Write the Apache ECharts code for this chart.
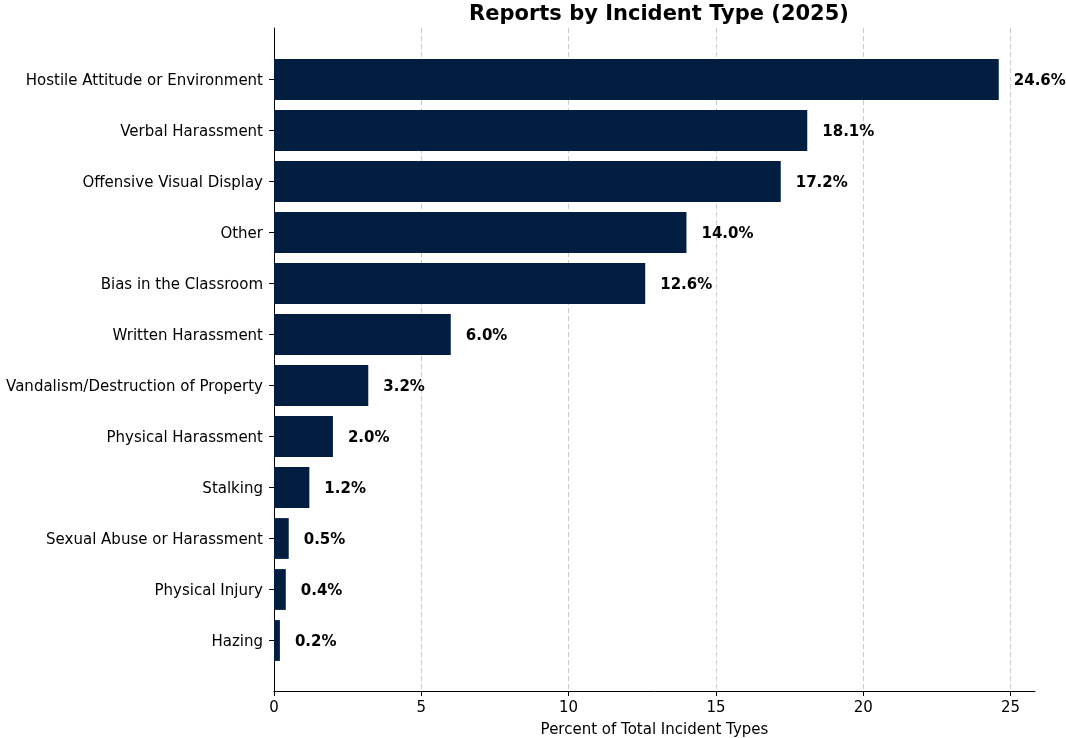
<!DOCTYPE html>
<html>
<head>
<meta charset="utf-8">
<script src="https://cdn.jsdelivr.net/npm/echarts@6/dist/echarts.min.js"></script>
<style>html,body{margin:0;padding:0;background:#fff}#c{width:1066px;height:738px}</style>
</head>
<body>
<div id="c"></div>
<script>
const categories = [
  'Hostile Attitude or Environment',
  'Verbal Harassment',
  'Offensive Visual Display',
  'Other',
  'Bias in the Classroom',
  'Written Harassment',
  'Vandalism/Destruction of Property',
  'Physical Harassment',
  'Stalking',
  'Sexual Abuse or Harassment',
  'Physical Injury',
  'Hazing'
];
const values = [24.6, 18.1, 17.2, 14.0, 12.6, 6.0, 3.2, 2.0, 1.2, 0.5, 0.4, 0.2];
const xTicks = [0, 5, 10, 15, 20, 25];

const FONT = 'DejaVu Sans';
const xMax = Math.max(...values) * 1.05;
const chart = echarts.init(document.getElementById('c'), null, {renderer: 'canvas'});
chart.setOption({
  animation: false,
  backgroundColor: '#fff',
  title: {
    text: 'Reports by Incident Type (2025)',
    left: 654, textAlign: 'center', top: -1,
    textStyle: {fontFamily: FONT, fontWeight: 'bold', fontSize: 21, color: '#000'}
  },
  grid: [
    {left: 274, right: 31, top: 28, bottom: 47, containLabel: false, outerBoundsMode: 'none'},
    {left: 274, right: 31, top: 54, bottom: 72, containLabel: false, outerBoundsMode: 'none'}
  ],
  xAxis: [
    {
      type: 'value', gridIndex: 0, min: 0, max: xMax,
      name: 'Percent of Total Incident Types', nameLocation: 'middle', nameGap: 32,
      nameTextStyle: {fontFamily: FONT, fontSize: 15, color: '#000'},
      axisLine: {show: true, onZero: false, lineStyle: {color: '#000', width: 1}},
      axisTick: {show: true, length: 5, lineStyle: {color: '#000'}, customValues: xTicks},
      axisLabel: {fontFamily: FONT, fontSize: 15, color: '#000', margin: 10, customValues: xTicks},
      splitLine: {show: true, lineStyle: {color: '#cccccc', type: [5, 3], width: 1}},
      interval: 5
    },
    {
      type: 'value', gridIndex: 1, min: 0, max: xMax,
      axisLine: {show: false}, axisTick: {show: false}, axisLabel: {show: false}, splitLine: {show: false}
    }
  ],
  yAxis: [
    {
      type: 'value', gridIndex: 0, min: 0, max: 1,
      axisLine: {show: true, lineStyle: {color: '#000', width: 1}},
      axisTick: {show: false}, axisLabel: {show: false}, splitLine: {show: false}
    },
    {
      type: 'category', gridIndex: 1, data: categories, inverse: true,
      axisLine: {show: false},
      axisTick: {show: true, alignWithLabel: true, length: 5, lineStyle: {color: '#000'}},
      axisLabel: {
        fontFamily: FONT, fontSize: 15, color: '#000', margin: 11,
        formatter: v => '{a|' + v + '}',
        rich: {a: {fontFamily: FONT, fontSize: 15, color: '#000', padding: [4, 0, 0, 0]}}
      },
      splitLine: {show: false}
    }
  ],
  series: [{
    type: 'bar', xAxisIndex: 1, yAxisIndex: 1,
    data: values,
    barCategoryGap: '20%',
    itemStyle: {color: '#011E41'},
    label: {
      show: true, position: 'right', distance: 15, offset: [0, 2],
      fontFamily: FONT, fontWeight: 'bold', fontSize: 15, color: '#000',
      formatter: p => p.value.toFixed(1) + '%'
    }
  }]
});
</script>
</body>
</html>
